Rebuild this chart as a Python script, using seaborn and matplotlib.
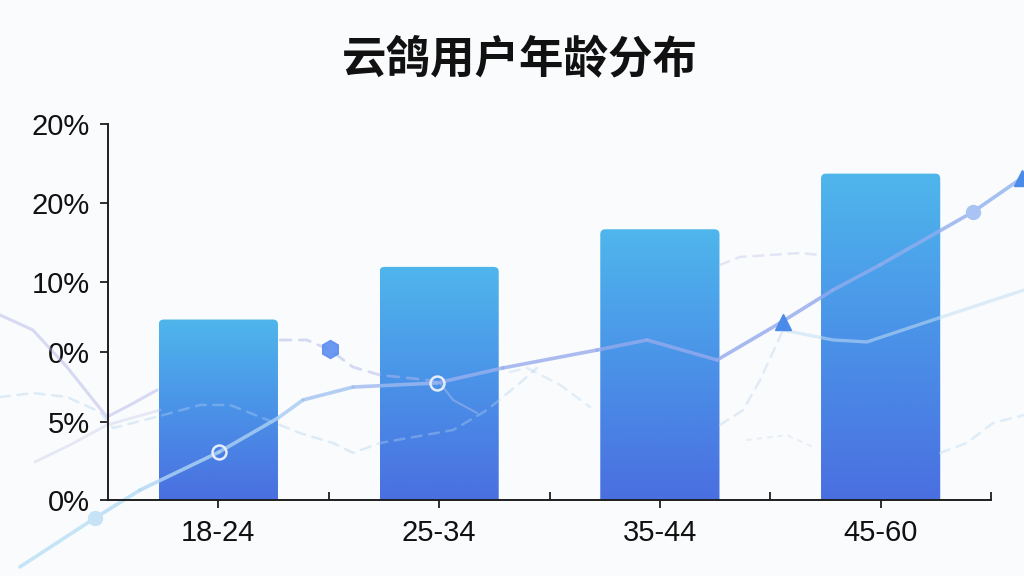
import numpy as np
import pandas as pd
import matplotlib
matplotlib.use("Agg")
import matplotlib.pyplot as plt
import seaborn as sns
from matplotlib.patches import FancyBboxPatch
from matplotlib.collections import LineCollection
from matplotlib.colors import LinearSegmentedColormap

# ---------------- data ----------------
categories = ["18-24", "25-34", "35-44", "45-60"]
values = [12.0, 15.5, 18.0, 21.7]
ytick_pos = [0, 5.19, 9.84, 14.5, 19.75, 25]
ytick_labels = ["0%", "5%", "0%", "10%", "20%", "20%"]
title = "云鸽用户年龄分布"

# decorative background trend line (x in category units, y in axis units)
main_x = [-0.899, -0.559, -0.355, 0.003, 0.270, 0.383, 0.610, 0.990, 1.289,
          1.715, 1.942, 2.259, 2.544, 2.784, 2.997, 3.418, 3.640]
main_y = [-4.45, -1.20, 0.66, 3.19, 5.45, 6.65, 7.51, 7.78, 8.78,
          9.97, 10.64, 9.31, 11.77, 13.96, 15.63, 19.15, 21.41]

lav1_x = [-0.989, -0.840, -0.686, -0.505, -0.400, -0.278]
lav1_y = [12.30, 11.30, 8.84, 5.52, 6.32, 7.31]
lav2_x = [-0.831, -0.672, -0.505, -0.264]
lav2_y = [2.53, 3.66, 4.99, 5.98]

dash1_x = [-0.989, -0.840, -0.686, -0.536, -0.477, -0.264, -0.083, 0.053, 0.189,
           0.370, 0.519, 0.610, 0.732, 1.063, 1.217, 1.366, 1.443]
dash1_y = [6.85, 7.11, 6.85, 5.85, 4.79, 5.59, 6.32, 6.32, 5.52,
           4.45, 3.79, 3.13, 3.79, 4.65, 5.98, 7.78, 8.78]
dash2_x = [0.279, 0.401, 0.506, 0.610, 0.732, 0.945, 1.004]
dash2_y = [10.64, 10.64, 9.97, 8.84, 8.31, 7.98, 7.78]
thin2_x = [1.004, 1.063, 1.172]
thin2_y = [7.78, 6.65, 5.78]
dash3_x = [1.321, 1.398, 1.548, 1.684]
dash3_y = [8.51, 8.78, 7.65, 6.18]
dash4_x = [2.272, 2.363, 2.635, 2.725]
dash4_y = [15.63, 16.16, 16.42, 16.29]
cyan2_x = [2.558, 2.784, 2.938, 3.237, 3.649]
cyan2_y = [11.30, 10.64, 10.51, 11.97, 13.96]
dash5_x = [2.272, 2.377, 2.454, 2.558]
dash5_y = [4.99, 5.98, 7.98, 11.30]
dash6_x = [2.395, 2.576, 2.694]
dash6_y = [3.99, 4.32, 3.52]
dash7_x = [3.269, 3.391, 3.509, 3.649]
dash7_y = [3.13, 3.79, 5.12, 5.65]

hex_pt = (0.506, 10.04)
tri_pts_x = [2.558, 3.640]
tri_pts_y = [11.84, 21.41]
dot_pt = (3.418, 19.15)
ring_x = [0.003, 0.990]
ring_y = [3.19, 7.78]
start_pt = (-0.559, -1.20)

# ---------------- style ----------------
sns.set_theme(style="white")
plt.rcParams["font.family"] = ["Liberation Sans", "Noto Sans CJK SC", "DejaVu Sans"]

BG = "#fafbfc"
fig = plt.figure(figsize=(10.24, 5.76), dpi=100, facecolor=BG)
ax = fig.add_axes([108 / 1024, 76 / 576, (991 - 108) / 1024, (500 - 124) / 576])
ax.set_facecolor("none")

df = pd.DataFrame({"age": categories, "share": values})
sns.barplot(data=df, x="age", y="share", color="#4a90e8", width=0.54, ax=ax,
            zorder=2)

ax.set_xlim(-0.5, 3.5)
ax.set_ylim(0, 25)

# gradient, rounded-top bars
grad = np.linspace(0, 1, 256).reshape(-1, 1)
cmap = LinearSegmentedColormap.from_list("bar", ["#4a6fe0", "#4a92e8", "#4fb6ec"])
rx = 5 / 220.75
ry = 5 / 15.04
for p in list(ax.patches):
    x0, w, h = p.get_x(), p.get_width(), p.get_height()
    p.set_visible(False)
    fb = FancyBboxPatch((x0, -1.0), w, h + 1.0,
                        boxstyle=f"round,pad=0,rounding_size={rx}",
                        mutation_aspect=ry / rx, facecolor="none",
                        edgecolor="none", transform=ax.transData)
    ax.add_patch(fb)
    im = ax.imshow(grad, extent=(x0, x0 + w, 0, h), origin="lower", cmap=cmap,
                   aspect="auto", zorder=2, interpolation="bilinear")
    im.set_clip_path(fb)
ax.set_xlim(-0.5, 3.5)
ax.set_ylim(0, 25)

# decorative lines (drawn above bars, translucent, not clipped)
def deco(x, y, color, lw, alpha, ls="-"):
    ax.plot(x, y, color=color, lw=lw, alpha=alpha, ls=ls, clip_on=False,
            zorder=3, solid_capstyle="round", dash_capstyle="round")

deco(lav1_x, lav1_y, "#aeb0e6", 2.2, 0.45)
deco(lav2_x, lav2_y, "#bfc2ea", 2.0, 0.35)
deco(dash1_x, dash1_y, "#b0d2f0", 1.8, 0.38, (0, (4, 3)))
deco(dash2_x, dash2_y, "#aeb9ea", 2.0, 0.5, (0, (4, 3)))
deco(thin2_x, thin2_y, "#b3c1ec", 1.5, 0.45)
deco(dash3_x, dash3_y, "#bcd7f0", 1.8, 0.38, (0, (4, 3)))
deco(dash4_x, dash4_y, "#c6cbea", 1.8, 0.45, (0, (4, 3)))
deco(cyan2_x, cyan2_y, "#c3def4", 2.4, 0.55)
deco(dash5_x, dash5_y, "#bed6f0", 1.8, 0.42, (0, (4, 3)))
deco(dash6_x, dash6_y, "#d6deef", 1.5, 0.45, (0, (2, 3)))
deco(dash7_x, dash7_y, "#bed9f0", 1.8, 0.42, (0, (4, 3)))

pts = np.column_stack([main_x, main_y])
segs = np.stack([pts[:-1], pts[1:]], axis=1)
line_cmap = LinearSegmentedColormap.from_list(
    "ln", ["#b8e0f6", "#a9cdf2", "#98acee", "#93a9ee", "#8fb0f0"])
lc = LineCollection(segs, cmap=line_cmap, linewidths=2.6, alpha=0.8,
                    zorder=3, clip_on=False, capstyle="round", joinstyle="round")
lc.set_array(np.linspace(0, 1, len(segs)))
ax.add_collection(lc)

# markers
ax.plot(*hex_pt, marker="h", ms=13, color="#5b8def", alpha=0.9, ls="none",
        clip_on=False, zorder=4)
ax.plot(tri_pts_x, tri_pts_y, marker="^", ms=12, color="#4a8ae8", ls="none",
        clip_on=False, zorder=4)
ax.plot(*dot_pt, marker="o", ms=10, color="#a9c4f4", ls="none",
        clip_on=False, zorder=4)
ax.plot(ring_x, ring_y, marker="o", ms=10, mfc="none", mec="#e6ecfa", mew=1.8,
        ls="none", clip_on=False, zorder=4)
ax.plot(*start_pt, marker="o", ms=10, color="#c6e3f6", ls="none",
        clip_on=False, zorder=4)

# axes styling
for s in ["top", "right"]:
    ax.spines[s].set_visible(False)
for s in ["left", "bottom"]:
    ax.spines[s].set_color("#1e1e1e")
    ax.spines[s].set_linewidth(1.4)
    ax.spines[s].set_zorder(5)

ax.set_yticks(ytick_pos)
ax.set_yticklabels(ytick_labels)
ax.set_xticks(range(len(categories)))
ax.set_xticklabels(categories)
ax.set_xticks([0.5, 1.5, 2.5, 3.5], minor=True)
ax.tick_params(axis="y", which="major", direction="out", length=6, width=1.3,
               color="#1e1e1e", labelsize=21, labelcolor="#111111", pad=7, left=True)
ax.tick_params(axis="x", which="major", direction="out", length=6, width=1.3,
               color="#1e1e1e", labelsize=21, labelcolor="#111111", pad=8, bottom=True)
ax.tick_params(axis="x", which="minor", direction="in", length=6, width=1.3,
               color="#1e1e1e", bottom=True)
ax.set_xlabel("")
ax.set_ylabel("")

fig.text(520 / 1024, 1 - 60 / 576, title, ha="center", va="center", fontsize=32,
         fontweight="bold", family=["Noto Sans CJK SC", "DejaVu Sans"],
         color="#111111")

fig.savefig("out.png", dpi=100, facecolor=BG)
